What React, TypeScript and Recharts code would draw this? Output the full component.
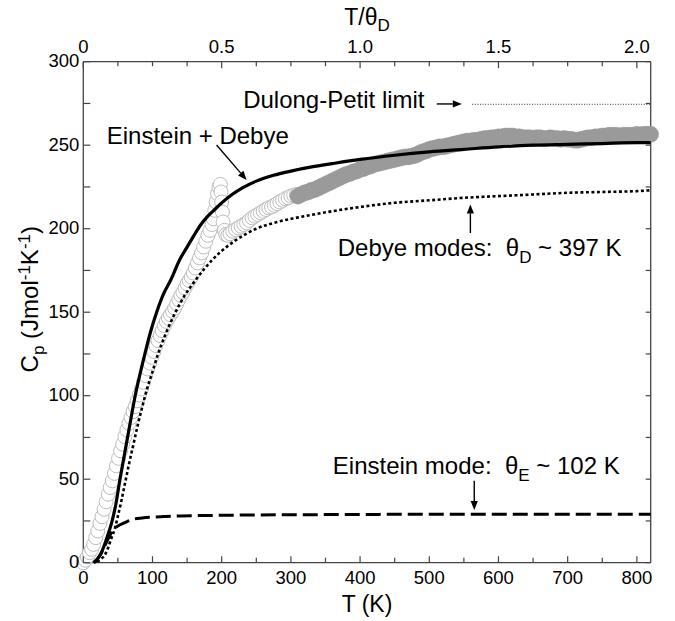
import {
  ComposedChart,
  Line,
  Scatter,
  XAxis,
  YAxis,
  ReferenceLine,
  ReferenceDot
} from "recharts";

const FONT = '"Liberation Sans", Arial, Helvetica, sans-serif';
const AXIS = "#444";

// [T (K), Cp (J mol-1 K-1)]
const einsteinDebye = [
  [15, 0], [20, 2], [25, 5], [30, 10], [35, 16], [41, 24], [47, 35], [53, 50],
  [60, 66], [67, 82], [75, 100], [82, 113], [89, 125], [97, 138], [106, 150],
  [116, 161], [126, 169], [140, 182], [150, 189], [160, 196], [170, 202.5],
  [180, 207.5], [190, 211.5], [200, 215.5], [215, 220.5], [230, 224.5],
  [250, 228.5], [275, 232], [300, 234.5], [330, 237], [360, 239], [400, 241.5],
  [450, 244], [500, 246], [550, 247.5], [600, 249], [650, 250], [700, 250.5],
  [750, 251], [800, 251.5], [820, 251.5]
];

const debyeModes = [
  [20, 0.5], [25, 2], [30, 4], [35, 8], [40, 14], [46, 21], [50, 28], [55, 37],
  [60, 47], [66, 59], [72, 70], [79, 83], [85, 93], [92, 104], [99, 113],
  [108, 125], [118, 136], [132, 149], [145, 159], [160, 168], [175, 176],
  [198, 186], [220, 193], [250, 200], [280, 204], [320, 207.5], [360, 210.5],
  [400, 213], [450, 215.5], [500, 217], [550, 218.5], [600, 219.5],
  [650, 220.5], [700, 221.5], [750, 222], [800, 222.5], [820, 223]
];

const einsteinMode = [
  [15, 0], [20, 2], [25, 5], [30, 9], [35, 13.5], [40, 17.5], [45, 20.5],
  [50, 22], [60, 24], [72, 26], [85, 26.8], [100, 27.3], [116, 27.6],
  [140, 28], [184, 28.3], [250, 28.6], [350, 28.8], [500, 29], [650, 29],
  [820, 29]
];

// measured points, open symbols (low T)
const measuredOpen = [
  [0, 0], [3, 1.5], [6, 3.5], [9, 6], [12, 8], [15, 11], [18, 15], [21, 19],
  [24, 23.5], [27, 27.5], [30, 32], [33, 36.5], [36, 41], [39, 45], [42, 49],
  [45, 53.5], [48, 58], [51, 62.5], [54, 67], [57, 71], [60, 75.5], [63, 79.5],
  [66, 83.5], [69, 87], [72, 90.5], [75, 93.5], [78, 97], [81, 100.5],
  [84, 104], [87, 108], [90, 112], [93, 116], [96, 119.5], [99, 123],
  [102, 126.5], [105, 130], [108, 133], [111, 136], [114, 139], [117, 142],
  [120, 144.5], [123, 146.5], [126, 148.5], [129, 150.5], [132, 152.5],
  [135, 155], [138, 157.5], [141, 160], [144, 162], [147, 164.5], [150, 167],
  [153, 169], [156, 171], [159, 173.5], [162, 176.5], [165, 179.5],
  [168, 182.5], [171, 185.5], [174, 189], [177, 192.5], [180, 196], [183, 199],
  [186, 202.5], [188, 206], [190, 211], [192, 216], [194, 221], [196, 225],
  [198, 226.5], [199, 222], [200, 216], [201, 210], [202, 204], [204, 199],
  [206, 196.5], [209, 196], [212, 197], [216, 198.5], [220, 199.5],
  [224, 200.5], [228, 201.5], [232, 202.5], [236, 203.5], [240, 205],
  [244, 206.5], [248, 207.5], [252, 208.5], [256, 209.5], [260, 210.5],
  [264, 211.5], [268, 212.5], [272, 213], [276, 214], [280, 215], [284, 216],
  [288, 217], [292, 218], [296, 218.5], [300, 219.5], [304, 220], [308, 220.5]
];

// measured points, filled symbols (high T)
const measuredFilled = [
  [310, 219.5], [315, 220.5], [320, 221.5], [325, 222], [330, 223],
  [335, 223.5], [340, 224.5], [345, 225.5], [350, 226.5], [355, 227.5],
  [360, 228.5], [365, 229.5], [370, 230.5], [375, 231.5], [380, 232.5],
  [385, 233], [390, 234], [395, 234.5], [400, 235.5], [405, 236], [410, 237],
  [415, 237.5], [420, 238.5], [425, 239], [430, 239.5], [435, 240],
  [440, 240.5], [445, 241], [450, 241.5], [455, 242], [460, 242.5],
  [465, 243], [470, 243], [475, 243.5], [480, 244], [485, 245], [490, 246],
  [495, 246.5], [500, 247.5], [505, 248], [510, 248.5], [515, 249],
  [520, 249], [525, 249.5], [530, 250], [535, 250.5], [540, 251],
  [545, 251.5], [550, 252], [555, 252.5], [560, 252.5], [565, 253],
  [570, 253], [575, 253.5], [580, 254], [585, 254], [590, 254.5],
  [595, 254.5], [600, 255], [605, 255], [610, 255.5], [615, 255.5],
  [620, 255.5], [625, 255], [630, 255], [635, 254.5], [640, 254.5],
  [645, 254.5], [650, 254], [655, 254.5], [660, 254.5], [665, 254],
  [670, 254], [675, 254.5], [680, 254], [685, 254], [690, 253.5], [695, 254],
  [700, 253.5], [705, 253.5], [710, 253], [715, 253], [720, 253.5],
  [725, 254], [730, 254.5], [735, 254.5], [740, 255], [745, 255],
  [750, 255.5], [755, 255.5], [760, 256], [765, 256], [770, 256],
  [775, 255.5], [780, 256], [785, 256], [790, 256], [795, 256], [800, 256.5],
  [805, 256], [810, 256.5], [815, 256.5], [820, 256.5]
];

// Dulong-Petit limit, drawn against the T/θD axis
const dulongPetitRatio = [1.405, 2.05];
const dulongPetitCp = [274.5, 274.5];

const kTicks = [0, 50, 100, 150, 200, 250, 300, 350, 400, 450, 500, 550, 600, 650, 700, 750, 800];
const kLabels = ["0", "", "100", "", "200", "", "300", "", "400", "", "500", "", "600", "", "700", "", "800"];
const ratioTicks = [0, 0.125, 0.25, 0.375, 0.5, 0.625, 0.75, 0.875, 1, 1.125, 1.25, 1.375, 1.5, 1.625, 1.75, 1.875, 2];
const ratioLabels = ["0", "", "", "", "0.5", "", "", "", "1.0", "", "", "", "1.5", "", "", "", "2.0"];
const cpTicks = [0, 25, 50, 75, 100, 125, 150, 175, 200, 225, 250, 275, 300];
const cpLabels = ["0", "", "50", "", "100", "", "150", "", "200", "", "250", "", "300"];

const pts = (arr: number[][]) => arr.map(([T, Cp]) => ({ T, Cp }));
const dpData = dulongPetitRatio.map((ratio, i) => ({ ratio, Cp: dulongPetitCp[i] }));

const BottomTick = (p: any) => {
  const lab = kLabels[kTicks.indexOf(p.payload.value)];
  return (
    <g>
      <line x1={p.x} y1={p.y} x2={p.x} y2={p.y - (lab ? 6.5 : 5)} stroke={AXIS} strokeWidth={1.2} />
      {lab && (
        <text x={p.x} y={p.y + 21} textAnchor="middle" fontSize={18.5} fontFamily={FONT} fill="#000">
          {lab}
        </text>
      )}
    </g>
  );
};

const TopTick = (p: any) => {
  const lab = ratioLabels[ratioTicks.indexOf(p.payload.value)];
  return (
    <g>
      <line x1={p.x} y1={p.y} x2={p.x} y2={p.y + (lab ? 6.5 : 4.5)} stroke={AXIS} strokeWidth={1.2} />
      {lab && (
        <text x={p.x} y={p.y - 9} textAnchor="middle" fontSize={18.5} fontFamily={FONT} fill="#000">
          {lab}
        </text>
      )}
    </g>
  );
};

const LeftTick = (p: any) => {
  const lab = cpLabels[cpTicks.indexOf(p.payload.value)];
  return (
    <g>
      <line x1={p.x} y1={p.y} x2={p.x + 7} y2={p.y} stroke={AXIS} strokeWidth={1.2} />
      {lab && (
        <text x={p.x - 4} y={p.y + 5.5} textAnchor="end" fontSize={18.5} fontFamily={FONT} fill="#000">
          {lab}
        </text>
      )}
    </g>
  );
};

const RightTick = (p: any) => (
  <line x1={p.x} y1={p.y} x2={p.x - 5} y2={p.y} stroke={AXIS} strokeWidth={1.2} />
);

const OpenCircle = (p: any) => (
  <circle cx={p.cx} cy={p.cy} r={7} fill="#fff" stroke="#b4b4b4" strokeWidth={0.9} />
);

const FilledCircle = (p: any) => (
  <circle cx={p.cx} cy={p.cy} r={8} fill="#9a9a9a" stroke="#9a9a9a" strokeWidth={0.5} />
);

const Arrow = (p: any) => {
  const { x1, y1, x2, y2 } = p;
  const a = Math.atan2(y2 - y1, x2 - x1);
  const len = 9;
  const half = 3.6;
  const bx = x2 - len * Math.cos(a);
  const by = y2 - len * Math.sin(a);
  const nx = -Math.sin(a) * half;
  const ny = Math.cos(a) * half;
  return (
    <g>
      <line x1={x1} y1={y1} x2={bx} y2={by} stroke="#000" strokeWidth={1.4} />
      <polygon points={`${x2},${y2} ${bx + nx},${by + ny} ${bx - nx},${by - ny}`} fill="#000" />
    </g>
  );
};

const textStyle = { whiteSpace: "pre" as const };

const Note = (content: any) => (p: any) => (
  <text x={p.cx} y={p.cy} fontSize={24} fontFamily={FONT} fill="#000" style={textStyle}>
    {content}
  </text>
);

const BottomTitle = (p: any) => {
  const vb = p.viewBox;
  return (
    <text x={vb.x + vb.width / 2} y={vb.y + 49} textAnchor="middle" fontSize={23} fontFamily={FONT} fill="#000">
      T (K)
    </text>
  );
};

const TopTitle = (p: any) => {
  const vb = p.viewBox;
  return (
    <text x={vb.x + vb.width / 2} y={vb.y + 25} textAnchor="middle" fontSize={23} fontFamily={FONT} fill="#000">
      T/θ<tspan dy={6} fontSize={17}>D</tspan>
    </text>
  );
};

const LeftTitle = (p: any) => {
  const vb = p.viewBox;
  const x = vb.x + 38;
  const y = vb.y + vb.height / 2 - 13;
  return (
    <text x={x} y={y} transform={`rotate(-90 ${x} ${y})`} textAnchor="middle" fontSize={24} fontFamily={FONT} fill="#000">
      C<tspan dy={6} fontSize={17}>p</tspan>
      <tspan dy={-6}> (Jmol</tspan>
      <tspan dy={-8} fontSize={17}>-1</tspan>
      <tspan dy={8}>K</tspan>
      <tspan dy={-8} fontSize={17}>-1</tspan>
      <tspan dy={8}>)</tspan>
    </text>
  );
};

const ids = { xAxisId: "bottom", yAxisId: "left" };

const App = () => {
  return (
    <div style={{ position: "absolute", left: 0, top: 0 }}>
      <ComposedChart width={675} height={621} margin={{ top: 0, right: 0, bottom: 0, left: 0 }}>
        <XAxis
          xAxisId="bottom"
          dataKey="T"
          type="number"
          domain={[0, 820]}
          ticks={kTicks}
          interval={0}
          height={58.3}
          tickSize={0}
          tickMargin={0}
          tickLine={false}
          tick={BottomTick}
          axisLine={{ stroke: AXIS, strokeWidth: 1.3 }}
          label={{ content: BottomTitle }}
        />
        <XAxis
          xAxisId="top"
          dataKey="ratio"
          orientation="top"
          type="number"
          domain={[0, 2.05]}
          allowDataOverflow
          ticks={ratioTicks}
          interval={0}
          height={61.7}
          tickSize={0}
          tickMargin={0}
          tickLine={false}
          tick={TopTick}
          axisLine={{ stroke: AXIS, strokeWidth: 1.3 }}
          label={{ content: TopTitle }}
        />
        <YAxis
          yAxisId="left"
          type="number"
          domain={[0, 300]}
          ticks={cpTicks}
          interval={0}
          width={83.3}
          tickSize={0}
          tickMargin={0}
          tickLine={false}
          tick={LeftTick}
          axisLine={{ stroke: AXIS, strokeWidth: 1.3 }}
          label={{ content: LeftTitle }}
        />
        <YAxis
          yAxisId="right"
          orientation="right"
          type="number"
          domain={[0, 300]}
          allowDataOverflow
          ticks={cpTicks}
          interval={0}
          width={24.3}
          tickSize={0}
          tickMargin={0}
          tickLine={false}
          tick={RightTick}
          axisLine={{ stroke: AXIS, strokeWidth: 1.3 }}
        />

        <Scatter {...ids} data={pts(measuredOpen)} dataKey="Cp" shape={OpenCircle} isAnimationActive={false} />
        <Scatter {...ids} data={pts(measuredFilled)} dataKey="Cp" shape={FilledCircle} isAnimationActive={false} />

        <Line {...ids} data={pts(einsteinMode)} dataKey="Cp" type="monotone" stroke="#000" strokeWidth={3}
          strokeDasharray="15 6" dot={false} activeDot={false} isAnimationActive={false} zIndex={700} />
        <Line {...ids} data={pts(debyeModes)} dataKey="Cp" type="monotone" stroke="#000" strokeWidth={2.6}
          strokeDasharray="3 2.5" dot={false} activeDot={false} isAnimationActive={false} zIndex={700} />
        <Line {...ids} data={pts(einsteinDebye)} dataKey="Cp" type="monotone" stroke="#000" strokeWidth={3.2}
          dot={false} activeDot={false} isAnimationActive={false} zIndex={700} />
        <Line xAxisId="top" yAxisId="left" data={dpData} dataKey="Cp" type="linear" stroke="#333"
          strokeWidth={1} strokeDasharray="1 1.6" dot={false} activeDot={false} isAnimationActive={false} />

        <ReferenceLine {...ids} segment={[{ x: 192.6, y: 250.1 }, { x: 236, y: 229.2 }]} shape={Arrow} />
        <ReferenceLine {...ids} segment={[{ x: 510.8, y: 274.7 }, { x: 547, y: 274.7 }]} shape={Arrow} />
        <ReferenceLine {...ids} segment={[{ x: 559.4, y: 197.4 }, { x: 559.4, y: 214.5 }]} shape={Arrow} />
        <ReferenceLine {...ids} segment={[{ x: 565, y: 49 }, { x: 565, y: 31.5 }]} shape={Arrow} />

        <ReferenceDot {...ids} x={33.8} y={250.7} r={0} shape={Note("Einstein + Debye")} />
        <ReferenceDot {...ids} x={231} y={272.3} r={0} shape={Note("Dulong-Petit limit")} />
        <ReferenceDot {...ids} x={367.7} y={183.5} r={0}
          shape={Note(<>Debye modes:  θ<tspan dy={7} fontSize={17}>D</tspan><tspan dy={-7}> ~ 397 K</tspan></>)} />
        <ReferenceDot {...ids} x={360.6} y={53.1} r={0}
          shape={Note(<>Einstein mode:  θ<tspan dy={7} fontSize={17}>E</tspan><tspan dy={-7}> ~ 102 K</tspan></>)} />
      </ComposedChart>
    </div>
  );
};

export default App;
